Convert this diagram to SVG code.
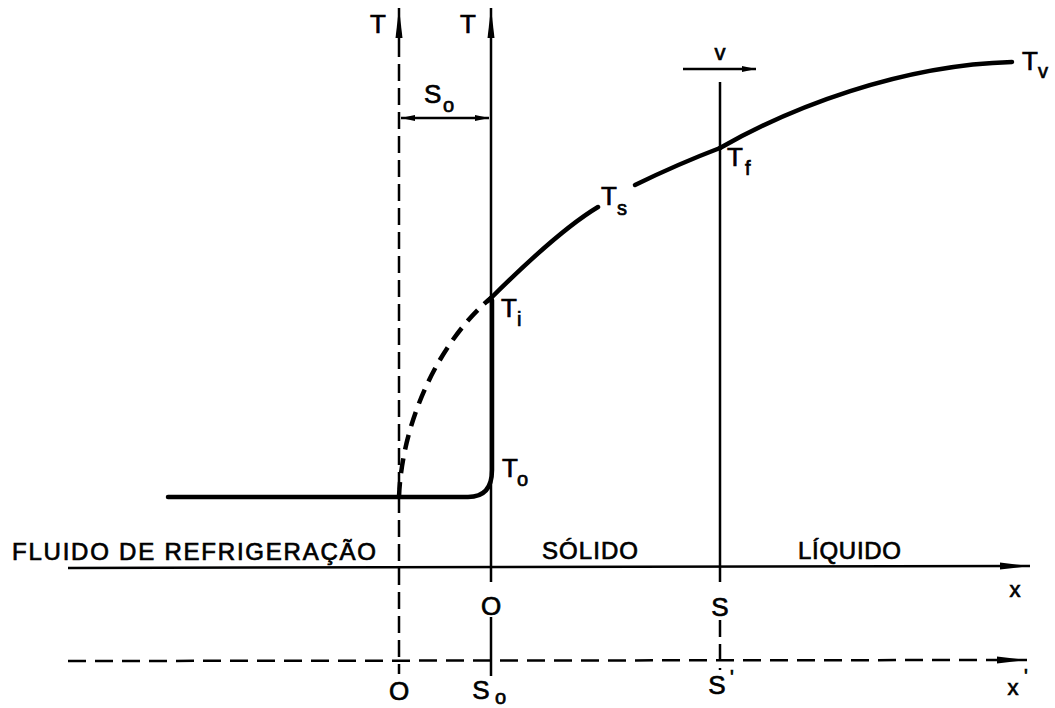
<svg xmlns="http://www.w3.org/2000/svg" width="1055" height="708" viewBox="0 0 1055 708">
<style>
  text { font-family: "Liberation Sans", Arial, sans-serif; fill: #000; stroke: #000; stroke-width: 0.7; }
  .lbl { font-size: 26px; }
  .sub { font-size: 20px; }
  .reg { font-size: 22px; }
  .reg24 { font-size: 24px; }
  .ln { stroke: #000; fill: none; stroke-width: 2.5; }
  .dash { stroke: #000; fill: none; stroke-width: 2.5; stroke-dasharray: 17 7; }
  .dashx { stroke: #000; fill: none; stroke-width: 2.5; stroke-dasharray: 18 9; }
  .curve { stroke: #000; fill: none; stroke-width: 4.5; stroke-linecap: round; }
  .curved { stroke: #000; fill: none; stroke-width: 4.5; stroke-dasharray: 15 9; }
</style>
<defs>
  <marker id="arrowR" viewBox="0 0 30 8" refX="30" refY="4" markerWidth="30" markerHeight="8" markerUnits="userSpaceOnUse" orient="auto">
    <path d="M30,4 L0,7.5 L0,0.5 Z" fill="#000"/>
  </marker>
  <marker id="arrowS" viewBox="0 0 14 8" refX="14" refY="4" markerWidth="14" markerHeight="8" markerUnits="userSpaceOnUse" orient="auto-start-reverse">
    <path d="M14,4 L0,7 L0,1 Z" fill="#000"/>
  </marker>
</defs>

<g id="connectors">
  <!-- T axis at fluid boundary (dashed) -->
  <line class="ln" x1="399" y1="40" x2="399" y2="8" marker-end="url(#arrowR)"/>
  <line class="dash" x1="399" y1="40" x2="399" y2="674"/>
  <!-- T axis at solid surface -->
  <line class="ln" x1="491" y1="582" x2="491" y2="8" marker-end="url(#arrowR)"/>
  <line class="ln" x1="491" y1="617" x2="491" y2="676"/>
  <!-- interface line S -->
  <line class="ln" x1="720" y1="82" x2="720" y2="582"/>
  <line class="dash" x1="720" y1="620" x2="720" y2="670"/>
  <!-- x axis -->
  <line class="ln" x1="68" y1="568" x2="1030" y2="566" marker-end="url(#arrowR)"/>
  <!-- x' axis -->
  <line class="dashx" x1="68" y1="661" x2="1000" y2="660"/>
  <line class="ln" x1="1000" y1="660" x2="1027" y2="660" marker-end="url(#arrowR)"/>
  <!-- dimension So -->
  <line class="ln" x1="401" y1="118" x2="489" y2="118" stroke-width="2" marker-start="url(#arrowS)" marker-end="url(#arrowS)"/>
  <!-- velocity arrow -->
  <line class="ln" x1="683" y1="69" x2="756" y2="69" stroke-width="2" marker-end="url(#arrowS)"/>
</g>

<g id="profile">
  <path class="curve" d="M492,300 L492,470 Q492,497 468,497 L168,497"/>
  <path class="curved" d="M399,497 C402,420 440,340 492,297"/>
  <path class="curve" d="M488,301 Q558,231 598,207"/>
  <path class="curve" d="M635,185 Q678,164 720,148"/>
  <path class="curve" d="M720,148 C790,108 900,65 1012,62"/>
</g>

<g id="labels">
  <text class="lbl" x="370" y="33">T</text>
  <text class="lbl" x="460" y="33">T</text>
  <g id="label-So-top"><text class="lbl" x="424" y="103">S</text><text class="sub" x="443" y="112">o</text></g>
  <g id="label-Ti"><text class="lbl" x="501" y="317">T</text><text class="sub" x="517" y="326">i</text></g>
  <g id="label-To"><text class="lbl" x="502" y="477">T</text><text class="sub" x="517" y="486">o</text></g>
  <g id="label-Ts"><text class="lbl" x="601" y="205">T</text><text class="sub" x="617" y="215">s</text></g>
  <g id="label-Tf"><text class="lbl" x="727" y="166">T</text><text class="sub" x="745" y="175">f</text></g>
  <g id="label-Tv"><text class="lbl" x="1022" y="70">T</text><text class="sub" x="1038" y="78">v</text></g>
  <text class="reg" x="720" y="60" text-anchor="middle">v</text>
  <text class="reg24" x="12" y="560" textLength="364" lengthAdjust="spacing">FLUIDO DE REFRIGERAÇÃO</text>
  <text class="reg24" x="542" y="559" textLength="96" lengthAdjust="spacing">SÓLIDO</text>
  <text class="reg24" x="798" y="559" textLength="103" lengthAdjust="spacing">LÍQUIDO</text>
  <text class="lbl" x="491" y="615" text-anchor="middle">O</text>
  <text class="lbl" x="720" y="616" text-anchor="middle">S</text>
  <text class="reg" x="1015" y="597" text-anchor="middle">x</text>
  <text class="lbl" x="399" y="700" text-anchor="middle">O</text>
  <g id="label-So-bottom"><text class="lbl" x="481" y="699" text-anchor="middle">S</text><text class="sub" x="495" y="704">o</text></g>
  <g id="label-Sprime"><text class="lbl" x="717" y="694" text-anchor="middle">S</text><text class="sub" x="730" y="684">'</text></g>
  <g id="label-xprime"><text class="reg" x="1013" y="695" text-anchor="middle">x</text><text class="sub" x="1024" y="683">'</text></g>
</g>
</svg>
